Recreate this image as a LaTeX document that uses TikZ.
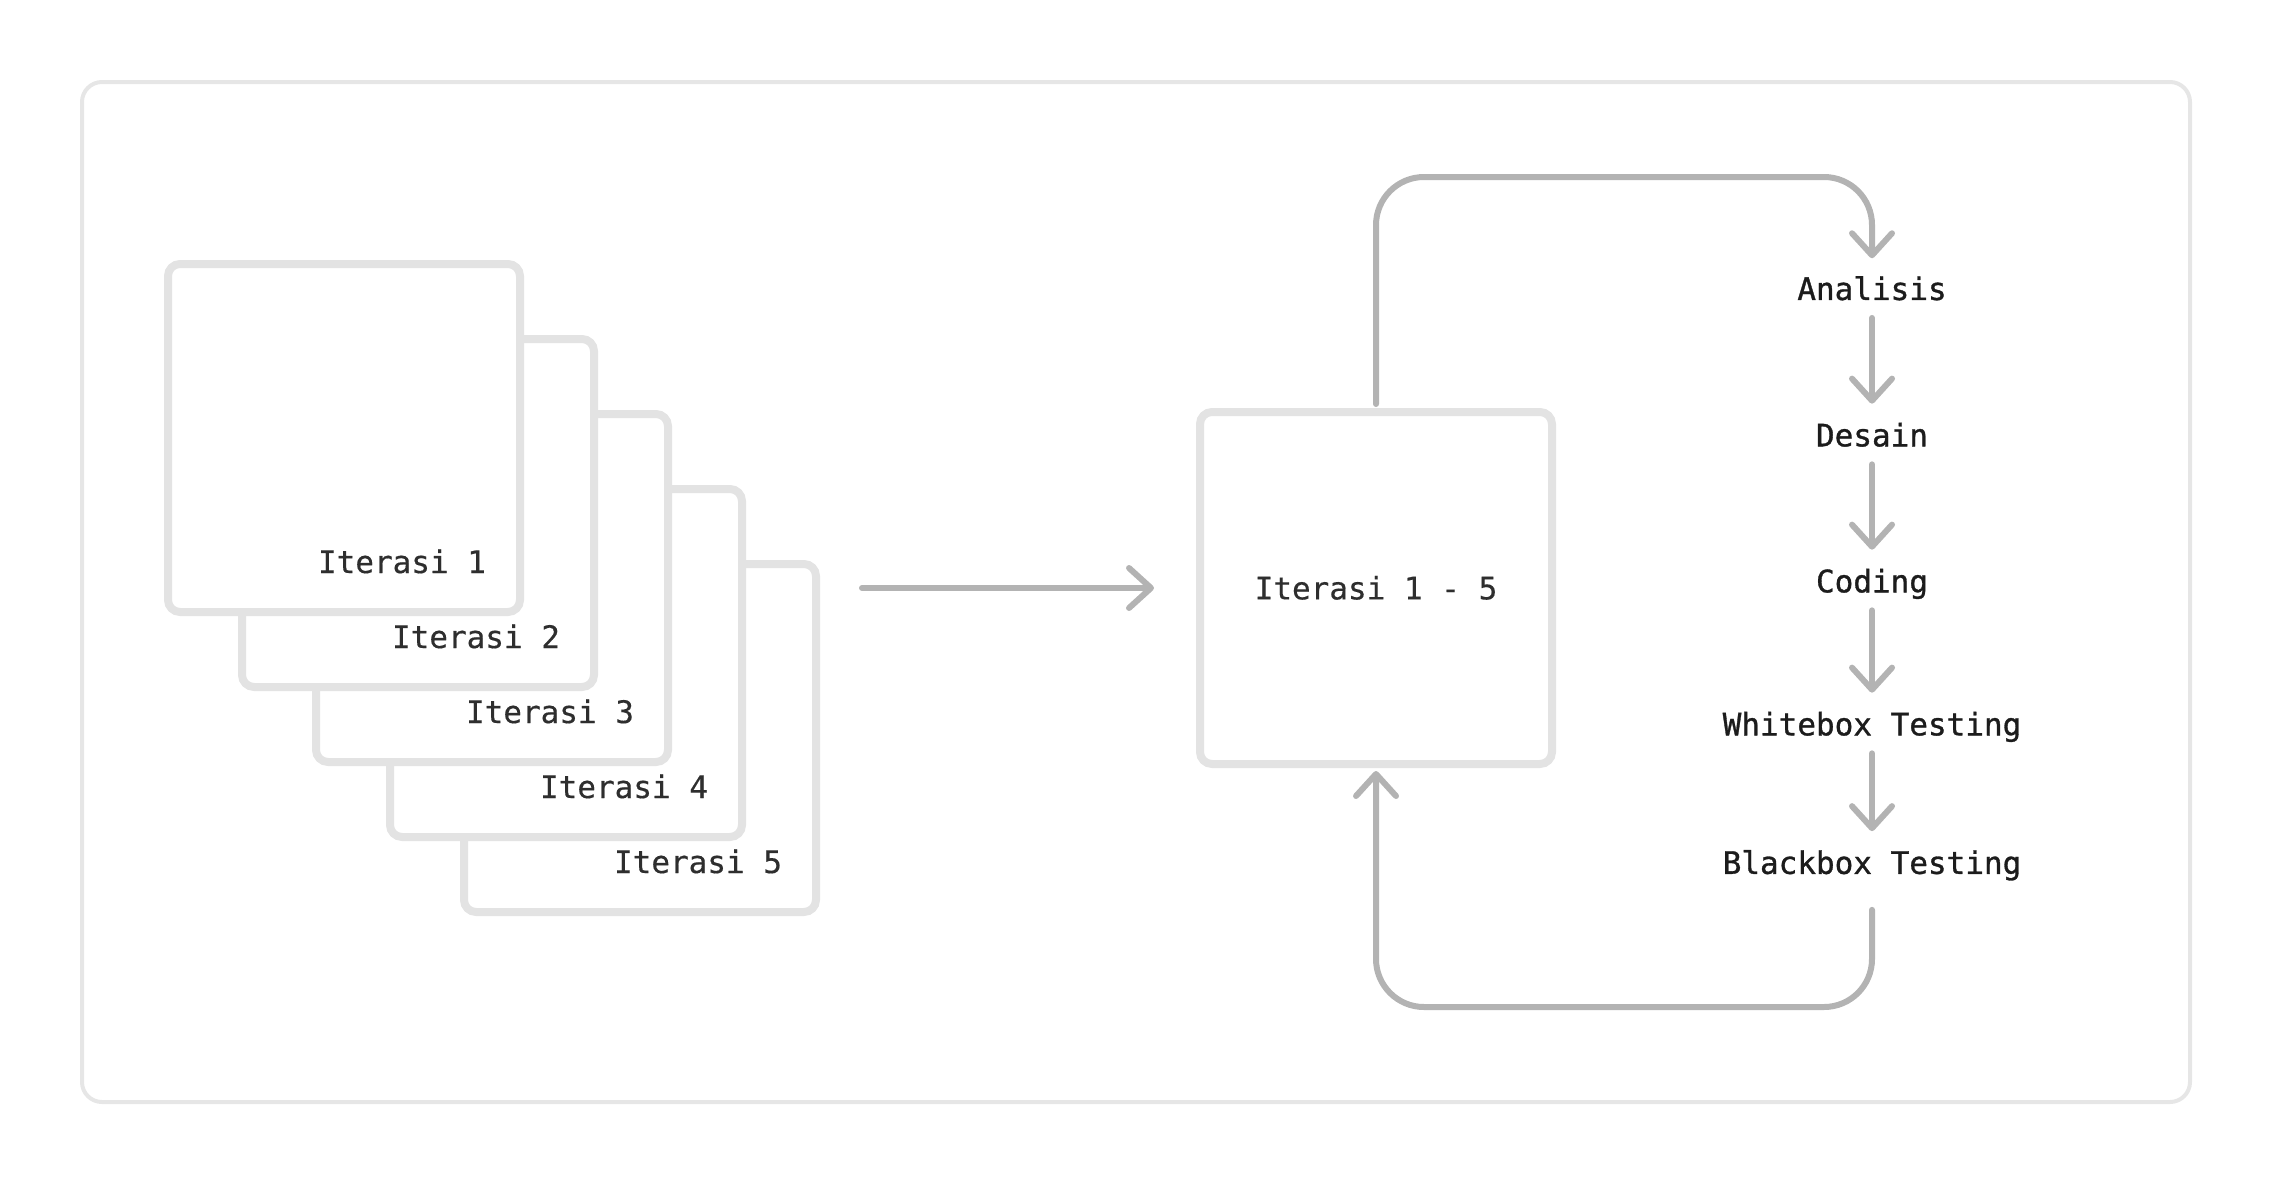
\documentclass[tikz,border=0pt]{standalone}
\usepackage{fontspec}
\setmonofont{DejaVu Sans Mono}
\newfontfamily\leftmono{DejaVu Sans Mono}[FakeBold=0.4]
\newfontfamily\rightmono{DejaVu Sans Mono}[FakeBold=1.0]
\usetikzlibrary{arrows.meta}
\definecolor{boxgray}{HTML}{E3E3E3}
\definecolor{framegray}{HTML}{E6E6E6}
\definecolor{flowgray}{HTML}{B3B3B3}
\definecolor{txtdark}{HTML}{2E2E2E}
\definecolor{txtblack}{HTML}{1C1C1C}
\begin{document}
\begin{tikzpicture}[x=1pt,y=-1pt,
  framebox/.style={draw=framegray, line width=4pt, rounded corners=20pt, minimum width=2108pt, minimum height=1020pt, inner sep=0pt, outer sep=0pt},
  iterbox/.style={draw=boxgray, fill=white, line width=8pt, rounded corners=12pt, minimum width=352pt, minimum height=348pt, inner sep=0pt, outer sep=0pt},
  mainbox/.style={iterbox, minimum height=352pt, text=txtdark, font=\leftmono\fontsize{31}{37}\selectfont, text height=22.7pt, text depth=0pt},
  iterlbl/.style={text=txtdark, font=\leftmono\fontsize{31}{37}\selectfont, inner sep=0pt, outer sep=0pt, anchor=base east},
  steplbl/.style={text=txtblack, font=\rightmono\fontsize{31}{37}\selectfont, text height=22.7pt, text depth=0pt, inner sep=0pt, outer sep=0pt},
  flow/.style={draw=flowgray, line width=6pt, line cap=round, line join=round, -{Straight Barb[length=22pt,width=40pt,round]}}
]
\useasboundingbox (0,0) rectangle (2272,1184);
\node[framebox] (frame) at (1136,592) {};

% stacked iteration boxes (5 behind, 1 in front)
\node[iterbox] (b5) at (640,738) {};
\node[iterlbl, xshift=-34pt, yshift=39pt] (l5) at (b5.south east) {Iterasi 5};
\node[iterbox] (b4) at (566,663) {};
\node[iterlbl, xshift=-34pt, yshift=39pt] (l4) at (b4.south east) {Iterasi 4};
\node[iterbox] (b3) at (492,588) {};
\node[iterlbl, xshift=-34pt, yshift=39pt] (l3) at (b3.south east) {Iterasi 3};
\node[iterbox] (b2) at (418,513) {};
\node[iterlbl, xshift=-34pt, yshift=39pt] (l2) at (b2.south east) {Iterasi 2};
\node[iterbox] (b1) at (344,438) {};
\node[iterlbl, xshift=-34pt, yshift=39pt] (l1) at (b1.south east) {Iterasi 1};

% combined box
\node[mainbox] (big) at (1376,588) {Iterasi 1 - 5};

% steps
\node[steplbl] (an) at (1872,288.6) {Analisis};
\node[steplbl] (de) at (1872,435) {Desain};
\node[steplbl] (co) at (1872,581) {Coding};
\node[steplbl] (wb) at (1872,724) {Whitebox Testing};
\node[steplbl] (bb) at (1872,862.5) {Blackbox Testing};

\coordinate (loopTR) at (1872,177);
\coordinate (loopBL) at (1376,1007);

% connectors
\draw[flow, shorten <=46pt, shorten >=46pt] (b5.east |- big.west) -- (big.west);
\draw[flow, shorten <=18pt, shorten >=20pt] (an) -- (de);
\draw[flow, shorten <=18pt, shorten >=20pt] (de) -- (co);
\draw[flow, shorten <=18pt, shorten >=20pt] (co) -- (wb);
\draw[flow, shorten <=18pt, shorten >=20pt] (wb) -- (bb);
\draw[flow, rounded corners=48pt, shorten <=8pt, shorten >=19pt] (big.north) |- (loopTR) -- (an.north);
\draw[flow, rounded corners=48pt, shorten <=36pt, shorten >=7pt] (bb.south) |- (loopBL) -- (big.south);
\end{tikzpicture}
\end{document}
